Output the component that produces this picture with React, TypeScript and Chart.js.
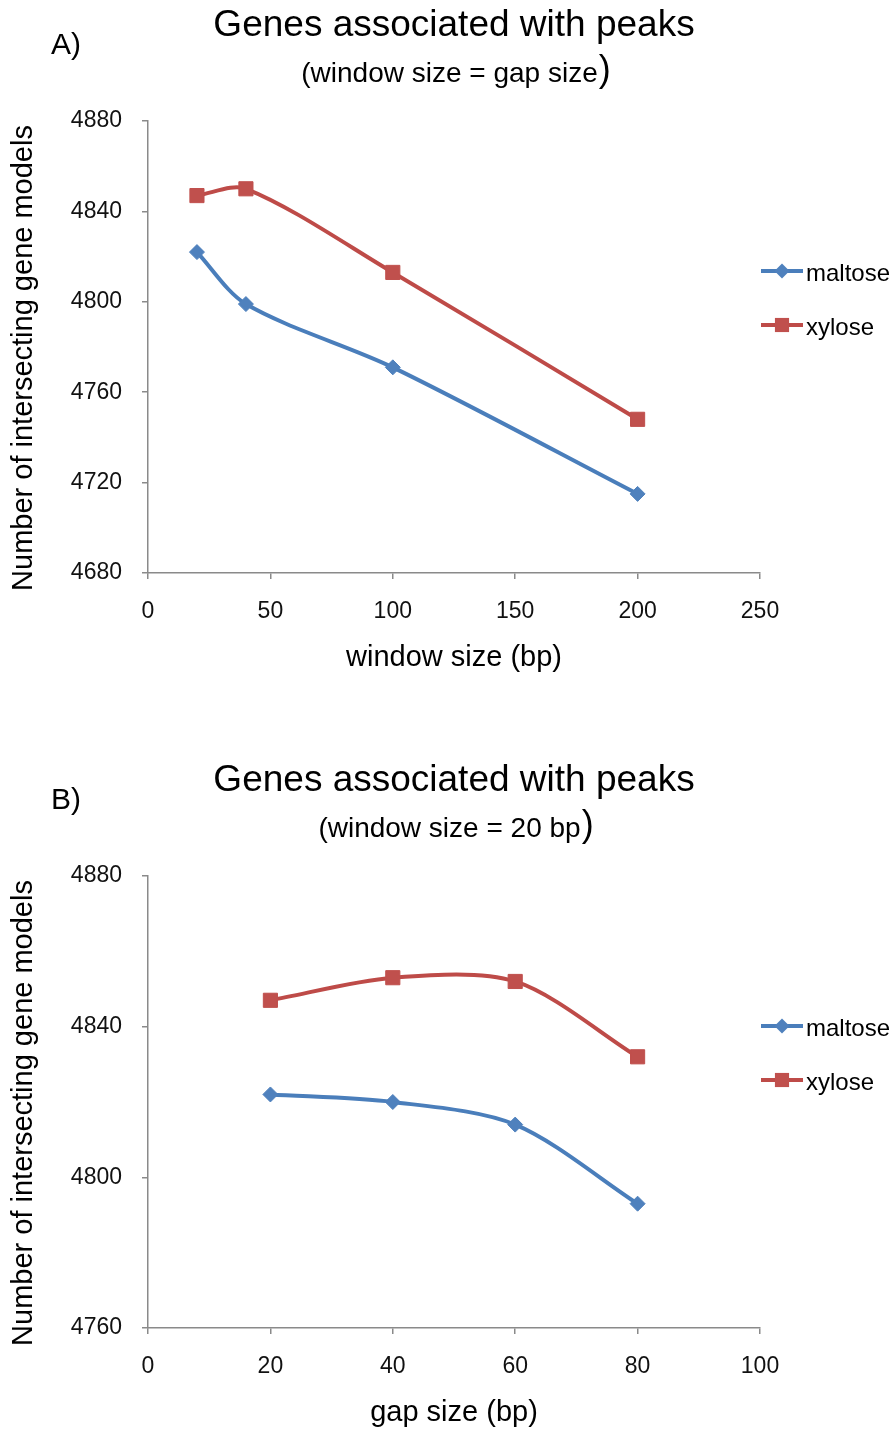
import React, { useEffect, useRef } from 'react';
import { Chart, registerables } from 'chart.js';

Chart.register(...registerables);

const FONT = '"Liberation Sans", Arial, Helvetica, sans-serif';

// Panel A: window size equals gap size
const windowSizes = [20, 40, 100, 200];
const maltoseByWindow = [4822, 4799, 4771, 4715];
const xyloseByWindow = [4847, 4850, 4813, 4748];

// Panel B: window fixed at 20 bp, gap size varies
const gapSizes = [20, 40, 60, 80];
const maltoseByGap = [4822, 4820, 4814, 4793];
const xyloseByGap = [4847, 4853, 4852, 4832];

const seriesLabels = ['maltose', 'xylose'];
const lineColors = ['#4A7EBB', '#BE4B48'];
const markerColors = ['#4F81BD', '#C0504D'];
const markerStyles = ['rectRot', 'rect'];
const markerRadii = [7.5, 10];

const chartTitle = 'Genes associated with peaks';
const yTitle = 'Number of intersecting gene models';

const windowTicks = { min: 0, max: 250, step: 50 };
const gapTicks = { min: 0, max: 100, step: 20 };
const windowCountTicks = { min: 4680, max: 4880, step: 40 };
const gapCountTicks = { min: 4760, max: 4880, step: 40 };

const AXIS_COLOR = '#8a8a8a';
const TEXT_COLOR = '#111';

type PanelSpec = {
  letter: string;
  subtitle: string;
  xTitle: string;
  xs: number[];
  series: number[][];
  xTicks: { min: number; max: number; step: number };
  yTicks: { min: number; max: number; step: number };
  canvasHeight: number;
};

const panels: PanelSpec[] = [
  {
    letter: 'A)',
    subtitle: '(window size = gap size',
    xTitle: 'window size (bp)',
    xs: windowSizes,
    series: [maltoseByWindow, xyloseByWindow],
    xTicks: windowTicks,
    yTicks: windowCountTicks,
    canvasHeight: 755,
  },
  {
    letter: 'B)',
    subtitle: '(window size = 20 bp',
    xTitle: 'gap size (bp)',
    xs: gapSizes,
    series: [maltoseByGap, xyloseByGap],
    xTicks: gapTicks,
    yTicks: gapCountTicks,
    canvasHeight: 678,
  },
];

// Header texts, rotated y title and the line+marker legend at the right.
const panelDecor = {
  id: 'panelDecor',
  afterDraw(chart: any, _args: any, opts: any) {
    const ctx: CanvasRenderingContext2D = chart.ctx;
    const area = chart.chartArea;
    const cx = (area.left + area.right) / 2;
    ctx.save();
    ctx.fillStyle = '#000';
    ctx.textBaseline = 'alphabetic';

    ctx.font = `30px ${FONT}`;
    ctx.textAlign = 'left';
    ctx.fillText(opts.letter, 51, 54);

    ctx.font = `37px ${FONT}`;
    ctx.textAlign = 'center';
    ctx.fillText(chartTitle, cx, 36);

    // subtitle, closed by a taller parenthesis
    ctx.font = `28px ${FONT}`;
    const mainW = ctx.measureText(opts.subtitle).width;
    ctx.font = `36px ${FONT}`;
    const parenW = ctx.measureText(')').width;
    const start = cx + 2 - (mainW + parenW + 1) / 2;
    ctx.textAlign = 'left';
    ctx.font = `28px ${FONT}`;
    ctx.fillText(opts.subtitle, start, 82);
    ctx.font = `36px ${FONT}`;
    ctx.fillText(')', start + mainW + 1, 81);

    // rotated y-axis title
    ctx.save();
    ctx.translate(32, 358);
    ctx.rotate(-Math.PI / 2);
    ctx.font = `29px ${FONT}`;
    ctx.textAlign = 'center';
    ctx.fillText(yTitle, 0, 0);
    ctx.restore();

    // legend: short line with the series marker, then the label
    const rows = [271, 325];
    chart.data.datasets.forEach((ds: any, i: number) => {
      const y = rows[i];
      ctx.strokeStyle = ds.borderColor;
      ctx.lineWidth = ds.borderWidth;
      ctx.beginPath();
      ctx.moveTo(761, y);
      ctx.lineTo(803, y);
      ctx.stroke();
      const mx = 782;
      const r = ds.pointRadius;
      ctx.fillStyle = ds.pointBackgroundColor;
      ctx.beginPath();
      if (ds.pointStyle === 'rectRot') {
        ctx.moveTo(mx, y - r);
        ctx.lineTo(mx + r, y);
        ctx.lineTo(mx, y + r);
        ctx.lineTo(mx - r, y);
        ctx.closePath();
      } else {
        const h = r * Math.SQRT1_2;
        ctx.rect(mx - h, y - h, 2 * h, 2 * h);
      }
      ctx.fill();
      ctx.fillStyle = '#000';
      ctx.font = `24px ${FONT}`;
      ctx.textAlign = 'left';
      ctx.textBaseline = 'alphabetic';
      ctx.fillText(ds.label, 806, y + 10);
    });
    ctx.restore();
  },
};

function Panel({ spec }: { spec: PanelSpec }) {
  const ref = useRef<HTMLCanvasElement>(null);

  useEffect(() => {
    const canvas = ref.current;
    if (!canvas) return;
    const xScaleHeight = 104;
    const plotBottom = 573;

    const datasets = spec.series.map((values, i) => ({
      label: seriesLabels[i],
      data: spec.xs.map((x, j) => ({ x, y: values[j] })),
      borderColor: lineColors[i],
      backgroundColor: markerColors[i],
      borderWidth: 4,
      tension: 0.3,
      fill: false,
      pointStyle: markerStyles[i],
      pointRadius: markerRadii[i],
      pointBackgroundColor: markerColors[i],
      pointBorderColor: markerColors[i],
      pointBorderWidth: 1,
    }));

    const tickFont = { family: FONT, size: 23 };
    const grid = {
      display: true,
      drawOnChartArea: false,
      drawTicks: true,
      tickLength: 6,
      color: AXIS_COLOR,
      lineWidth: 1.5,
    };
    const border = { display: true, color: AXIS_COLOR, width: 1.5 };

    const chart = new Chart(canvas, {
      type: 'line',
      data: { datasets },
      plugins: [panelDecor],
      options: {
        responsive: false,
        animation: false,
        devicePixelRatio: 1,
        layout: {
          padding: {
            top: 121,
            right: 134,
            left: 0,
            bottom: spec.canvasHeight - plotBottom - xScaleHeight,
          },
        },
        plugins: {
          legend: { display: false },
          tooltip: { enabled: false },
          panelDecor: { letter: spec.letter, subtitle: spec.subtitle },
        } as any,
        scales: {
          x: {
            type: 'linear',
            min: spec.xTicks.min,
            max: spec.xTicks.max,
            ticks: {
              stepSize: spec.xTicks.step,
              color: TEXT_COLOR,
              font: tickFont,
              padding: 19,
              maxRotation: 0,
              autoSkip: false,
              callback: (v: any) => String(v),
            },
            grid,
            border,
            title: {
              display: true,
              text: spec.xTitle,
              color: '#000',
              font: { family: FONT, size: 29 },
              padding: { top: 0, bottom: 2 },
            },
            afterFit: (s: any) => {
              s.height = xScaleHeight;
            },
          },
          y: {
            type: 'linear',
            min: spec.yTicks.min,
            max: spec.yTicks.max,
            ticks: {
              stepSize: spec.yTicks.step,
              color: TEXT_COLOR,
              font: tickFont,
              padding: 20,
              callback: (v: any) => String(v),
            },
            grid,
            border,
            afterFit: (s: any) => {
              s.width = 148;
            },
          },
        },
      } as any,
    });
    return () => chart.destroy();
  }, [spec]);

  return (
    <canvas
      ref={ref}
      width={894}
      height={spec.canvasHeight}
      style={{ display: 'block', width: 894, height: spec.canvasHeight }}
    />
  );
}

export default function App() {
  return (
    <div
      style={{
        position: 'absolute',
        left: 0,
        top: 0,
        width: 894,
        height: 1433,
        overflow: 'hidden',
        background: '#fff',
      }}
    >
      {panels.map((p) => (
        <Panel key={p.letter} spec={p} />
      ))}
    </div>
  );
}
